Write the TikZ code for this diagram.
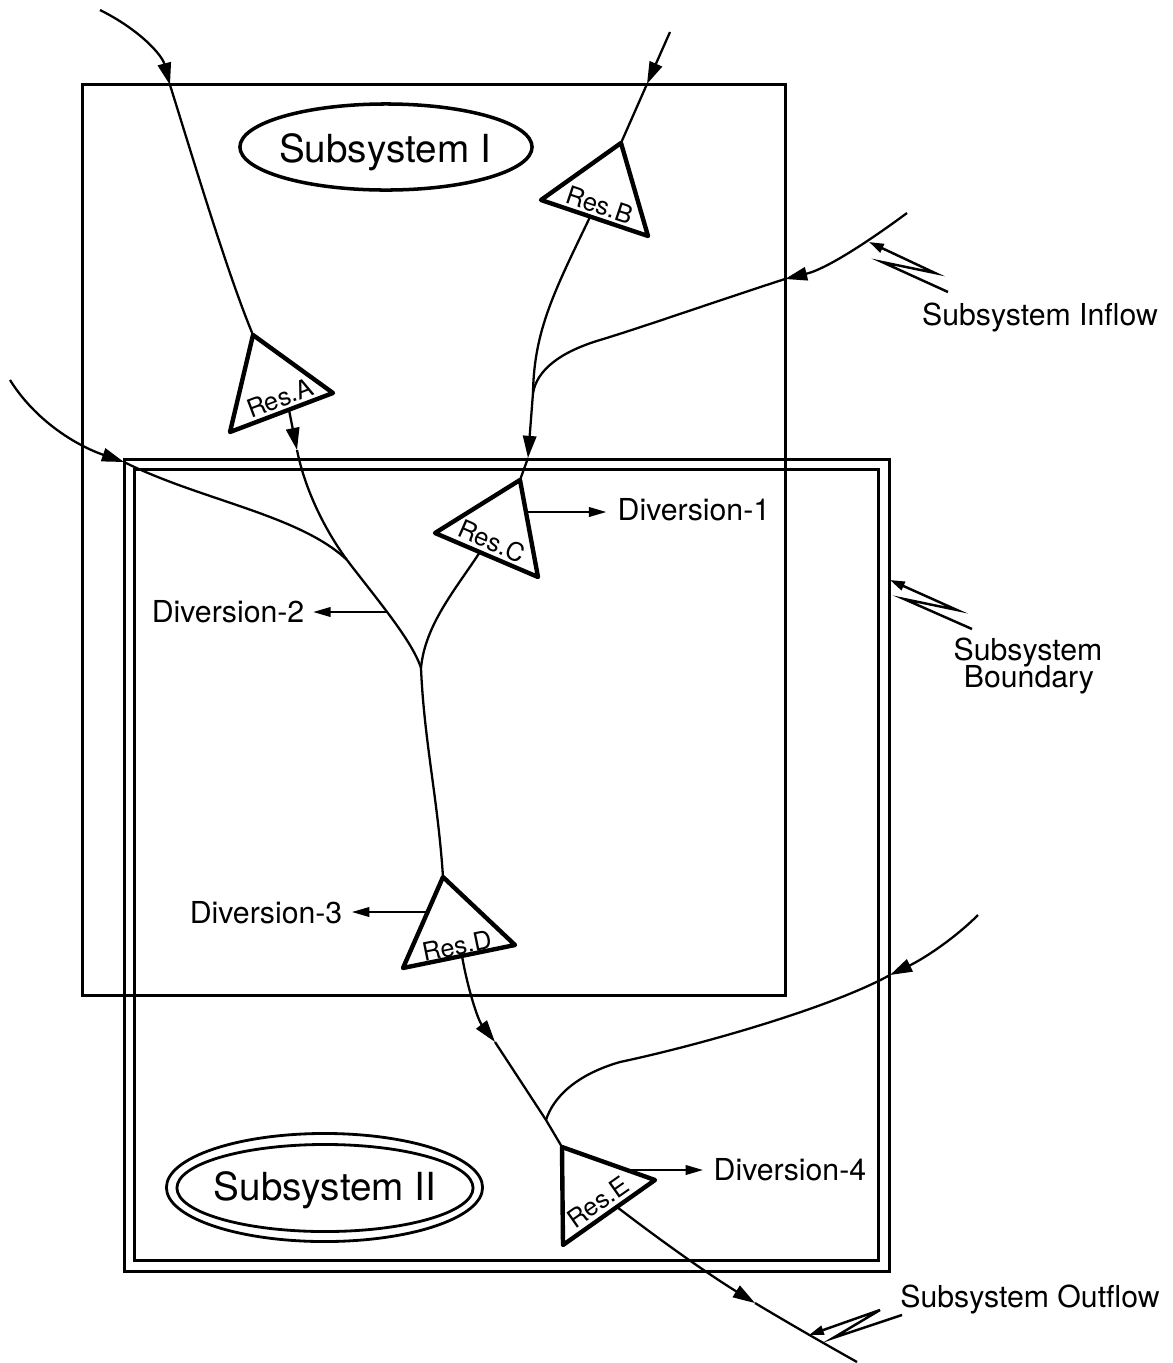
\documentclass[tikz,border=0pt]{standalone}
\usepackage{fontspec}
\setmainfont{TeX Gyre Heros}
\usetikzlibrary{arrows.meta,shapes.geometric}
\begin{document}
\begin{tikzpicture}[x=0.01cm,y=-0.01cm,
  box/.style={draw, line width=0.95pt, inner sep=0pt},
  flow/.style={line width=0.65pt},
  tri/.style={line width=1.25pt, line join=round},
  pointer/.style={line width=0.7pt, line join=miter},
  fa/.style={-{Triangle[length=6.3pt,width=3.8pt]}},
  da/.style={-{Triangle[length=5pt,width=2.7pt]}},
  pa/.style={-{Triangle[length=4.2pt,width=2.6pt]}},
  lab/.style={font=\fontsize{8.6}{9}\selectfont, inner sep=0pt},
  res/.style={font=\fontsize{7.2}{8}\selectfont, inner sep=0pt},
  big/.style={font=\fontsize{11}{13}\selectfont, inner sep=0pt},
  ell/.style={draw, ellipse, inner sep=0pt}]

\useasboundingbox (0,0) rectangle (1173,1363);

% subsystem boxes
\node[box, minimum width=7.02cm, minimum height=9.10cm] (sysI) at (434,540) {};
\node[box, minimum width=7.64cm, minimum height=8.11cm] (sysIIout) at (507,865.5) {};
\node[box, minimum width=7.43cm, minimum height=7.90cm] (sysIIin) at (506.5,865) {};

% subsystem titles
\node[ell, line width=1pt, minimum width=2.92cm, minimum height=0.86cm] (ellI) at (386,147) {};
\node[big, anchor=base] (tI) at (385,162) {Subsystem I};
\node[ell, line width=0.8pt, minimum width=3.16cm, minimum height=1.08cm] (ellIIout) at (324.5,1187.5) {};
\node[ell, line width=0.8pt, minimum width=2.96cm, minimum height=0.87cm] (ellIIin) at (325,1188) {};
\node[big, anchor=base] (tII) at (325,1200) {Subsystem II};

% reservoir vertices
\coordinate (A1) at (253,335); \coordinate (A2) at (333,393); \coordinate (A3) at (230,432);
\coordinate (B1) at (621,143); \coordinate (B2) at (541,200); \coordinate (B3) at (648,236);
\coordinate (C1) at (520,480); \coordinate (C2) at (435,533); \coordinate (C3) at (538,577);
\coordinate (D1) at (443,877); \coordinate (D2) at (515,945); \coordinate (D3) at (403,968);
\coordinate (E1) at (562,1147); \coordinate (E2) at (655,1180); \coordinate (E3) at (563,1245);

\draw[tri] (A1) -- (A2) -- (A3) -- cycle;
\draw[tri] (B1) -- (B2) -- (B3) -- cycle;
\draw[tri] (C1) -- (C2) -- (C3) -- cycle;
\draw[tri] (D1) -- (D2) -- (D3) -- cycle;
\draw[tri] (E1) -- (E2) -- (E3) -- cycle;

\node[res, rotate=20.7] (rA) at (280,398) {Res.A};
\node[res, rotate=-18.6] (rB) at (600,205) {Res.B};
\node[res, rotate=-23.6] (rC) at (492,541) {Res.C};
\node[res, rotate=11.6] (rD) at (457,946) {Res.D};
\node[res, rotate=35] (rE) at (598,1202) {Res.E};

% outlet points
\coordinate (Aout) at (289,410);
\coordinate (Bout) at (590,217);
\coordinate (Cout) at (480,552);
\coordinate (Dout) at (462,956);
\coordinate (Eout) at (617,1207);

% junctions
\coordinate (J1) at (533,393);
\coordinate (M) at (347,560);
\coordinate (J2) at (421,668);
\coordinate (J3) at (546,1120);

% inflow to Res.A
\coordinate (inAstart) at (100,10);
\coordinate (inAcross) at (170,85);
\draw[flow,fa] (inAstart) .. controls (140,30) and (162,55) .. (inAcross);
\draw[flow] (inAcross) .. controls (195,165) and (228,275) .. (A1);

% inflow to Res.B
\coordinate (inBstart) at (670,32);
\coordinate (inBcross) at (647,84);
\draw[flow,fa] (inBstart) -- (inBcross);
\draw[flow] (inBcross) -- (B1);

% subsystem inflow (right, upper)
\coordinate (inRstart) at (907,213);
\coordinate (inRcross) at (785,279);
\draw[flow,fa] (inRstart) .. controls (880,233) and (830,268) .. (inRcross);
\draw[flow] (inRcross) .. controls (720,300) and (640,328) .. (600,340) .. controls (560,352) and (537,370) .. (J1);

% Res.B to Res.C
\coordinate (CinArr) at (528,458);
\draw[flow] (Bout) .. controls (555,290) and (534,330) .. (J1);
\draw[flow,fa] (J1) -- (CinArr);
\draw[flow] (CinArr) -- (C1);

% left inflow
\coordinate (inLstart) at (10,380);
\coordinate (inLcross) at (124,462);
\draw[flow,fa] (inLstart) .. controls (35,420) and (75,445) .. (inLcross);
\draw[flow] (inLcross) .. controls (200,500) and (300,515) .. (M);

% Res.A downstream
\coordinate (AinArr) at (297,450);
\draw[flow,fa] (Aout) -- (AinArr);
\draw[flow] (AinArr) .. controls (305,490) and (325,530) .. (M);
\draw[flow] (M) .. controls (375,597) and (412,640) .. (J2);
\draw[flow] (Cout) .. controls (455,590) and (425,625) .. (J2);
\draw[flow] (J2) .. controls (424,740) and (438,800) .. (D1);

% Res.D to Res.E
\coordinate (DinArr) at (495,1042);
\draw[flow,fa] (Dout) .. controls (468,990) and (478,1020) .. (DinArr);
\draw[flow] (DinArr) -- (J3) -- (E1);

% lower right inflow
\coordinate (inR2start) at (978,915);
\coordinate (inR2cross) at (890,975);
\draw[flow,fa] (inR2start) .. controls (955,938) and (925,958) .. (inR2cross);
\draw[flow] (inR2cross) .. controls (830,1008) and (700,1045) .. (620,1062) .. controls (575,1075) and (553,1098) .. (J3);

% outflow
\coordinate (outArr) at (755,1303);
\coordinate (outEnd) at (857,1362);
\draw[flow,fa] (Eout) .. controls (660,1240) and (705,1272) .. (outArr);
\draw[flow] (outArr) .. controls (790,1324) and (825,1344) .. (outEnd);

% diversions
\node[lab, anchor=base west] (d1) at (617,520) {Diversion-1};
\node[lab, anchor=base east] (d2) at (305,622) {Diversion-2};
\node[lab, anchor=base east] (d3) at (343,923) {Diversion-3};
\node[lab, anchor=base west] (d4) at (713,1180) {Diversion-4};
\coordinate (d1s) at (527,512);
\coordinate (d2s) at (387,612);
\coordinate (d3s) at (428,912);
\coordinate (d4s) at (630,1170);
\draw[flow,da,shorten >=3pt] (d1s) -- (d1s -| d1.west);
\draw[flow,da,shorten >=2.3pt] (d2s) -- (d2s -| d2.east);
\draw[flow,da,shorten >=2.5pt] (d3s) -- (d3s -| d3.east);
\draw[flow,da,shorten >=2.8pt] (d4s) -- (d4s -| d4.west);

% side labels
\node[lab, anchor=base] (linflow) at (1040,325) {Subsystem Inflow};
\node[lab, anchor=base] (lbound1) at (1028,660) {Subsystem};
\node[lab, anchor=base] (lbound2) at (1029,687) {Boundary};
\node[lab, anchor=base] (loutflow) at (1030,1307) {Subsystem Outflow};

% pointers
\coordinate (pi1) at (948,292); \coordinate (pi2) at (882,262); \coordinate (pi3) at (935,273);
\coordinate (piT) at (869,242);
\draw[pointer,pa] (pi1) -- (pi2) -- (pi3) -- (piT);
\coordinate (pb1) at (972,629); \coordinate (pb2) at (904,599); \coordinate (pb3) at (957,610);
\coordinate (pbT) at (890,580);
\draw[pointer,pa] (pb1) -- (pb2) -- (pb3) -- (pbT);
\coordinate (po1) at (902,1315); \coordinate (po2) at (833,1338); \coordinate (po3) at (880,1310);
\coordinate (poT) at (809,1335);
\draw[pointer,pa] (po1) -- (po2) -- (po3) -- (poT);

\end{tikzpicture}
\end{document}
